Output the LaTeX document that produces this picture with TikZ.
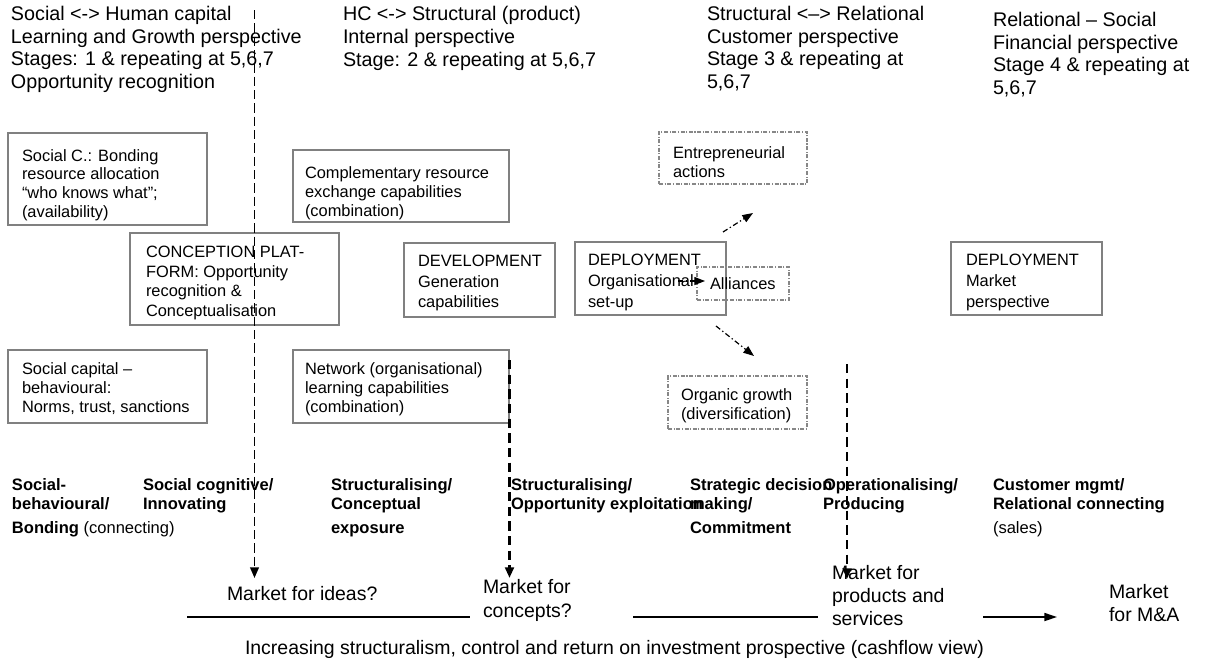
\documentclass[tikz,border=0pt]{standalone}
\usepackage{fontspec}
\setmainfont{Liberation Sans}
\usetikzlibrary{arrows.meta,fit}
\definecolor{boxgray}{RGB}{128,128,128}
\definecolor{dotgray}{RGB}{135,135,135}
\begin{document}
\begin{tikzpicture}[x=0.75pt,y=-0.75pt,
  every node/.style={inner sep=0pt, outer sep=0pt},
  % multi-line texts are placed by the baseline of their last line
  head/.style={anchor=base west, align=left, font=\fontsize{14.8}{16.9}\selectfont},
  btext/.style={anchor=base west, align=left, font=\fontsize{12.3}{#1}\selectfont},
  btext/.default=14.4,
  stage/.style={anchor=base west, align=left, font=\fontsize{12.4}{13.9}\selectfont\bfseries},
  market/.style={anchor=base west, align=left, font=\fontsize{14.6}{#1}\selectfont},
  market/.default=17,
  sbox/.style={draw=boxgray, line width=1pt},
  dbox/.style={draw=dotgray, line width=0.8pt, dash pattern=on 3pt off 1.2pt on 0.8pt off 1.2pt},
  thinflow/.style={draw=black, line width=1.4pt, dash pattern=on 7pt off 3pt,
    -{Triangle[length=8pt,width=6.5pt]}},
  thickflow/.style={draw=black, line width=2.2pt, dash pattern=on 7pt off 4pt,
    -{Triangle[length=8pt,width=6.5pt]}},
  branch/.style={draw=black, line width=0.9pt, dash pattern=on 4pt off 2pt on 1pt off 2pt,
    -{Triangle[length=8pt,width=6pt]}},
  axis/.style={draw=black, line width=1.3pt}
]
\useasboundingbox[fill=white] (0,0) rectangle (1206,662);

% column headings
\node[head] (h1) at (11,88.5) {Social <-> Human capital\\Learning and Growth perspective\\Stages: 1 \& repeating at 5,6,7\\Opportunity recognition};
\node[head] (h2) at (343,66) {HC <-> Structural (product)\\Internal perspective\\Stage: 2 \& repeating at 5,6,7};
\node[head] (h3) at (707,88.5) {Structural <–> Relational\\Customer perspective\\Stage 3 \& repeating at\\5,6,7};
\node[head] (h4) at (993,94.5) {Relational – Social\\Financial perspective\\Stage 4 \& repeating at\\5,6,7};

% capability boxes
\node[sbox, fit={(8,133) (207,225)}] (bsc) {};
\node[btext=14] (tsc) at (22,217) {Social C.: Bonding\\resource allocation\\“who knows what”;\\(availability)};

\node[sbox, fit={(293,150) (509,222)}] (bcr) {};
\node[btext=14] (tcr) at (305,216.3) {Complementary resource\\exchange capabilities\\(combination)};

\node[sbox, fit={(130,233) (339,325)}] (bcp) {};
\node[btext=14.6] (tcp) at (146,316) {CONCEPTION PLAT-\\FORM: Opportunity\\recognition \&\\Conceptualisation};

\node[sbox, fit={(404,243) (555,317)}] (bdv) {};
\node[btext=15.4] (tdv) at (418,307.6) {DEVELOPMENT\\Generation\\capabilities};

\node[sbox, fit={(575,242) (726,315)}] (bdo) {};
\node[btext=15.7] (tdo) at (588,307) {DEPLOYMENT\\Organisational\\set-up};

\node[sbox, fit={(951,242) (1102,315)}] (bdm) {};
\node[btext=15.7] (tdm) at (966,307) {DEPLOYMENT\\Market\\perspective};

\node[sbox, fit={(8,350) (207,423)}] (bsb) {};
\node[btext] (tsb) at (22,412.4) {Social capital –\\behavioural:\\Norms, trust, sanctions};

\node[sbox, fit={(293,350) (509,423)}] (bnl) {};
\node[btext] (tnl) at (305,412.4) {Network (organisational)\\learning capabilities\\(combination)};

% deployment options
\node[dbox, fit={(659,132) (807,184)}] (ben) {};
\node[btext=13.9] (ten) at (673,177.5) {Entrepreneurial\\actions};

\node[dbox, fit={(697,267) (789,300)}] (bal) {};
\node[btext] (tal) at (710,289) {Alliances};

\node[dbox, fit={(668,376) (807,429)}] (bog) {};
\node[btext=13.6] (tog) at (681,419) {Organic growth\\(diversification)};

% branching arrows out of the organisational set-up
\coordinate (e1) at (723,232);
\coordinate (e2) at (753,213);
\coordinate (a1) at (678,281);
\coordinate (a2) at (705,281);
\coordinate (g1) at (716,326);
\coordinate (g2) at (754,356);
\draw[branch] (e1) -- (e2);
\draw[branch] (a1) -- (a2);
\draw[branch] (g1) -- (g2);

% stage labels
\node[stage] (s1) at (12,533) {Social-\\behavioural/\\[4pt]Bonding {\mdseries (connecting)}};
\node[stage] (s2) at (143,509.5) {Social cognitive/\\Innovating};
\node[stage] (s3) at (331,533) {Structuralising/\\Conceptual\\[4pt]exposure};
\node[stage] (s4) at (511,509.5) {Structuralising/\\Opportunity exploitation};
\node[stage] (s5) at (690,533) {Strategic decision\\making/\\[4pt]Commitment};
\node[stage] (s6) at (823,509.5) {Operationalising/\\Producing};
\node[stage] (s7) at (993,533) {Customer mgmt/\\Relational connecting\\[4pt]{\mdseries (sales)}};

% markets
\node[market] (m1) at (227,600) {Market for ideas?};
\node[market=18] (m2) at (483,617) {Market for\\concepts?};
\node[market=16.9] (m3) at (832,625) {Market for\\products and\\services};
\node[market=17.3] (m4) at (1109,621.5) {Market\\for M\&A};
\node[market] (inc) at (245,654.5) {Increasing structuralism, control and return on investment prospective (cashflow view)};

% flows into the markets
\coordinate (f1a) at (254.5,10);
\coordinate (f1b) at (254.5,578);
\coordinate (f2a) at (509.5,360);
\coordinate (f2b) at (509.5,578);
\coordinate (f3a) at (847,364);
\coordinate (f3b) at (847,579);
\draw[thinflow] (f1a) -- (f1b);
\draw[thickflow] (f2a) -- (f2b);
\draw[thickflow] (f3a) -- (f3b);

% axis of increasing structuralism
\coordinate (x1a) at (187,617);
\coordinate (x1b) at (470,617);
\coordinate (x2a) at (633,617);
\coordinate (x2b) at (818,617);
\coordinate (x3a) at (983,617);
\coordinate (x3b) at (1057,617);
\draw[axis] (x1a) -- (x1b);
\draw[axis] (x2a) -- (x2b);
\draw[axis, -{Triangle[length=9.5pt,width=6pt]}] (x3a) -- (x3b);
\end{tikzpicture}
\end{document}
